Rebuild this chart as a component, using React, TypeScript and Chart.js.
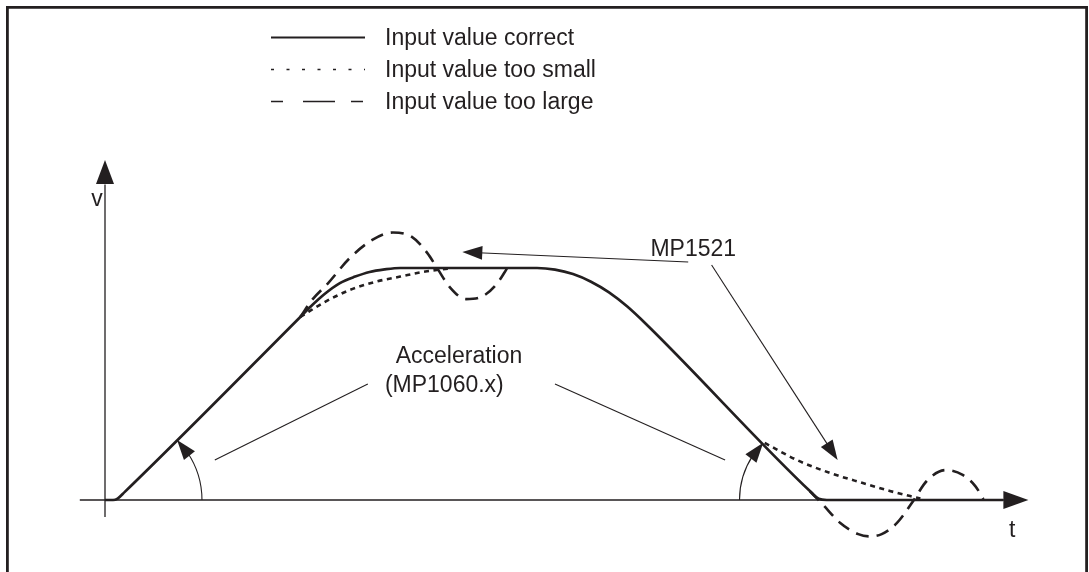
import { useEffect, useRef } from 'react';
import { Chart, registerables } from 'chart.js';

Chart.register(...registerables);

// ---- Data (t in time units, v in % of programmed feed rate) ----
const T_CORRECT = [0, 0.9, 1.4, 2.2, 21.7, 22.8, 24.4, 26.1, 27.8, 29.4, 31.1, 32.8, 48.0, 50.0, 52.0, 54.0, 56.0, 58.0, 60.0, 78.5, 79.3, 80.2, 99.8];
const V_CORRECT = [0, 0, 0.6, 3.5, 78.9, 83.2, 88.8, 93.5, 96.3, 98.3, 99.4, 100, 100, 99.3, 97.4, 94.1, 89.5, 83.5, 76.3, 3.2, 0.5, 0, 0];

const T_SMALL = [21.7, 24.4, 27.2, 30.0, 32.8, 35.6, 38.3, null, 73.3, 76.9, 80.6, 84.2, 87.2, 90.6];
const V_SMALL = [78.9, 85.3, 90.5, 94.0, 96.3, 98.5, 99.8, null, 24.6, 17.2, 11.6, 7.3, 3.9, 0.6];

const T_LARGE = [21.7, 23.0, 24.8, 27.2, 29.7, 32.0, 34.1, 35.8, 36.9, 38.3, 40.1, 42.0, 43.6, 44.7, null, 78.3, 79.6, 81.7, 83.7, 85.0, 86.3, 88.0, 89.8, 91.3, 93.4, 95.3, 96.7, 97.6];
const V_LARGE = [78.9, 86.2, 93.5, 104.3, 112.1, 115.3, 113.4, 106.5, 100, 91.8, 86.6, 87.9, 93.5, 100, null, 3.8, -1.3, -9.9, -14.7, -15.7, -14.7, -9.9, -0.4, 8.2, 12.9, 10.8, 6.0, 0.4];

const SERIES_LABELS = ['Input value correct', 'Input value too small', 'Input value too large'];
const AXIS_TITLES = ['t', 'v'];
const ANNOTATION_TEXTS = ['MP1521', 'Acceleration', '(MP1060.x)'];

const INK = '#231f20';
const FONT = '"Liberation Sans", Arial, sans-serif';

function toPoints(ts: (number | null)[], vs: (number | null)[]) {
  return ts.map((t, i) => ({ x: t === null ? (ts[i - 1] as number) : t, y: vs[i] }));
}

function arrowHead(ctx: CanvasRenderingContext2D, tx: number, ty: number, ang: number, len: number, hw: number) {
  const bx = tx - len * Math.cos(ang);
  const by = ty - len * Math.sin(ang);
  const px = -Math.sin(ang) * hw;
  const py = Math.cos(ang) * hw;
  ctx.beginPath();
  ctx.moveTo(tx, ty);
  ctx.lineTo(bx + px, by + py);
  ctx.lineTo(bx - px, by - py);
  ctx.closePath();
  ctx.fill();
}

const diagramPlugin = {
  id: 'diagram',
  beforeDatasetsDraw(chart: any) {
    const ctx: CanvasRenderingContext2D = chart.ctx;
    const xs = chart.scales.x;
    const ys = chart.scales.y;
    const X = (t: number) => xs.getPixelForValue(t);
    const Y = (v: number) => ys.getPixelForValue(v);
    ctx.save();
    ctx.strokeStyle = INK;
    ctx.fillStyle = INK;

    // frame
    ctx.lineWidth = 2.8;
    ctx.beginPath();
    ctx.moveTo(7.4, 600);
    ctx.lineTo(7.4, 7.4);
    ctx.lineTo(1086.6, 7.4);
    ctx.lineTo(1086.6, 600);
    ctx.stroke();

    // axes
    ctx.lineWidth = 1.3;
    ctx.beginPath();
    ctx.moveTo(X(-2.8), Y(0));
    ctx.lineTo(X(100), Y(0));
    ctx.moveTo(X(0), Y(-7.3));
    ctx.lineTo(X(0), Y(136));
    ctx.stroke();
    arrowHead(ctx, X(102.6), Y(0), 0, 25, 9);
    arrowHead(ctx, X(0), Y(146.5), -Math.PI / 2, 24, 9);

    // axis titles
    ctx.font = `23px ${FONT}`;
    ctx.textAlign = 'center';
    ctx.textBaseline = 'alphabetic';
    ctx.fillText(AXIS_TITLES[0], X(100.8), Y(-16));
    ctx.fillText(AXIS_TITLES[1], X(-0.9), Y(126.7));

    // annotation lines
    ctx.lineWidth = 1.1;
    const seg = (a: number[], b: number[]) => {
      ctx.beginPath();
      ctx.moveTo(X(a[0]), Y(a[1]));
      ctx.lineTo(X(b[0]), Y(b[1]));
      ctx.stroke();
    };
    const arrowTo = (a: number[], b: number[]) => {
      const ax = X(a[0]), ay = Y(a[1]), bx = X(b[0]), by = Y(b[1]);
      const ang = Math.atan2(by - ay, bx - ax);
      ctx.beginPath();
      ctx.moveTo(ax, ay);
      ctx.lineTo(bx - 16 * Math.cos(ang), by - 16 * Math.sin(ang));
      ctx.stroke();
      arrowHead(ctx, bx, by, ang, 20, 7);
    };
    arrowTo([64.8, 102.6], [39.7, 106.9]);
    arrowTo([67.4, 101.3], [81.4, 17.2]);
    seg([12.2, 17.2], [29.2, 50]);
    seg([50, 50], [68.9, 17.2]);

    // angle arcs
    const arcL = { cx: X(1.33), cy: Y(0), r: 85 };
    const endL = -Math.PI / 4 + 16 / arcL.r;
    ctx.beginPath();
    ctx.arc(arcL.cx, arcL.cy, arcL.r, 0, endL, true);
    ctx.stroke();
    {
      const tipA = -Math.PI / 4;
      const tx = arcL.cx + arcL.r * Math.cos(tipA), ty = arcL.cy + arcL.r * Math.sin(tipA);
      const bx = arcL.cx + arcL.r * Math.cos(tipA + 20 / arcL.r), by = arcL.cy + arcL.r * Math.sin(tipA + 20 / arcL.r);
      arrowHead(ctx, tx, ty, Math.atan2(ty - by, tx - bx), 20, 7);
    }
    const arcR = { cx: X(79.5), cy: Y(0), r: 81 };
    const endR = Math.PI * 1.25 - 16 / arcR.r;
    ctx.beginPath();
    ctx.arc(arcR.cx, arcR.cy, arcR.r, Math.PI, endR, false);
    ctx.stroke();
    {
      const tipA = Math.PI * 1.25;
      const tx = arcR.cx + arcR.r * Math.cos(tipA), ty = arcR.cy + arcR.r * Math.sin(tipA);
      const bx = arcR.cx + arcR.r * Math.cos(tipA - 20 / arcR.r), by = arcR.cy + arcR.r * Math.sin(tipA - 20 / arcR.r);
      arrowHead(ctx, tx, ty, Math.atan2(ty - by, tx - bx), 20, 7);
    }

    // annotation texts
    ctx.textAlign = 'left';
    ctx.font = `23px ${FONT}`;
    ctx.fillText(ANNOTATION_TEXTS[0], X(60.6), Y(105));
    ctx.fillText(ANNOTATION_TEXTS[1], X(32.3), Y(59));
    ctx.fillText(ANNOTATION_TEXTS[2], X(31.1), Y(46.5));

    ctx.restore();
  },
  afterDraw(chart: any) {
    const ctx: CanvasRenderingContext2D = chart.ctx;
    ctx.save();
    ctx.strokeStyle = INK;
    ctx.fillStyle = INK;
    const x0 = 271, x1 = 365, tx = 385;
    const rows = [37.5, 69.5, 101.5];
    // solid
    ctx.lineWidth = 2;
    ctx.beginPath();
    ctx.moveTo(x0, rows[0]);
    ctx.lineTo(x1, rows[0]);
    ctx.stroke();
    // dotted
    ctx.lineWidth = 1.6;
    ctx.setLineDash([3, 12.5]);
    ctx.beginPath();
    ctx.moveTo(x0, rows[1]);
    ctx.lineTo(x1, rows[1]);
    ctx.stroke();
    // dashed: short - long - short
    ctx.setLineDash([12, 20, 32, 16, 12]);
    ctx.beginPath();
    ctx.moveTo(x0, rows[2]);
    ctx.lineTo(x1, rows[2]);
    ctx.stroke();
    ctx.setLineDash([]);
    ctx.font = `23px ${FONT}`;
    ctx.textAlign = 'left';
    ctx.textBaseline = 'middle';
    SERIES_LABELS.forEach((s, i) => ctx.fillText(s, tx, rows[i] + 1));
    ctx.restore();
  },
};

export default function App() {
  const ref = useRef<HTMLCanvasElement | null>(null);
  useEffect(() => {
    if (!ref.current) return;
    const chart = new Chart(ref.current, {
      type: 'line',
      data: {
        datasets: [
          {
            label: SERIES_LABELS[0],
            data: toPoints(T_CORRECT, V_CORRECT),
            borderColor: INK,
            borderWidth: 2.7,
            cubicInterpolationMode: 'monotone',
            pointRadius: 0,
            fill: false,
          },
          {
            label: SERIES_LABELS[1],
            data: toPoints(T_SMALL, V_SMALL),
            borderColor: INK,
            borderWidth: 2.6,
            borderDash: [5, 4.5],
            cubicInterpolationMode: 'monotone',
            pointRadius: 0,
            spanGaps: false,
            fill: false,
          },
          {
            label: SERIES_LABELS[2],
            data: toPoints(T_LARGE, V_LARGE),
            borderColor: INK,
            borderWidth: 2.6,
            borderDash: [13, 8],
            cubicInterpolationMode: 'monotone',
            pointRadius: 0,
            spanGaps: false,
            fill: false,
          },
        ],
      },
      options: {
        animation: false,
        responsive: false,
        devicePixelRatio: 1,
        events: [],
        layout: { padding: { left: 105, right: 84, top: 175.2, bottom: 25.6 } },
        scales: {
          x: { type: 'linear', min: 0, max: 100, display: false },
          y: { type: 'linear', min: -20, max: 140, display: false },
        },
        plugins: { legend: { display: false }, tooltip: { enabled: false } },
      },
      plugins: [diagramPlugin],
    } as any);
    return () => chart.destroy();
  }, []);
  return (
    <div style={{ position: 'absolute', left: 0, top: 0, width: 1089, height: 572, background: '#fff' }}>
      <canvas ref={ref} width={1089} height={572} style={{ display: 'block' }} />
    </div>
  );
}
